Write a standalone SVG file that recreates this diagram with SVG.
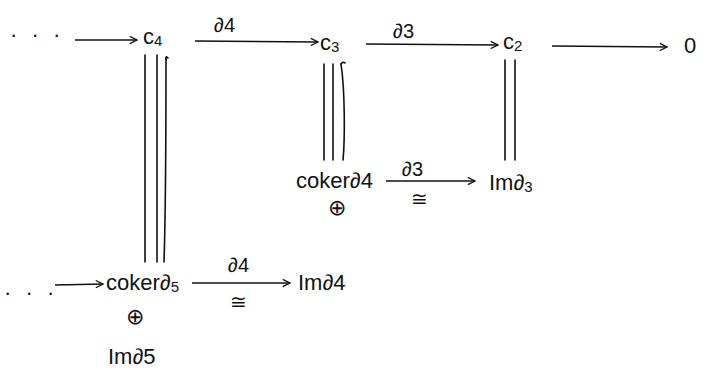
<svg xmlns="http://www.w3.org/2000/svg" width="716" height="381" viewBox="0 0 716 381">
<style>
.t{font-family:"Liberation Sans","DejaVu Sans",sans-serif;fill:#111;}
.n{font-size:22px;}
.l{font-size:20px;}
.o{font-size:22px;}
.sub{font-size:15px;}
.d{font-size:22px;letter-spacing:4px;}
.e{stroke:#111;stroke-width:1.6;fill:none;stroke-linecap:round;}
.a{stroke:#111;stroke-width:1.6;fill:none;marker-end:url(#ah);}
</style>
<defs>
<marker id="ah" viewBox="0 0 10 10" refX="9" refY="5" markerWidth="9" markerHeight="9" markerUnits="userSpaceOnUse" orient="auto">
<path d="M1,1 L9,5 L1,9" fill="none" stroke="#111" stroke-width="1.4"/>
</marker>
</defs>
<rect width="716" height="381" fill="#fff"/>
<g id="dots1"><text class="t d" x="10" y="42">· · ·</text></g>
<g id="c4"><text class="t n" x="143" y="44">c<tspan class="sub" dy="2">4</tspan></text></g>
<g id="c3"><text class="t n" x="320" y="50">c<tspan class="sub" dy="2">3</tspan></text></g>
<g id="c2"><text class="t n" x="503" y="49">c<tspan class="sub" dy="2">2</tspan></text></g>
<g id="zero"><text class="t n" x="684" y="53">0</text></g>
<g id="coker4"><text class="t n" x="296" y="188">coker∂4</text><text class="t o" x="328" y="215">⊕</text></g>
<g id="im3"><text class="t n" x="489" y="190">Im∂<tspan class="sub" dy="2">3</tspan></text></g>
<g id="dots2"><text class="t d" x="4" y="300">· · ·</text></g>
<g id="coker5"><text class="t n" x="106" y="290">coker∂<tspan class="sub" dy="2">5</tspan></text><text class="t o" x="126" y="324">⊕</text><text class="t n" x="108" y="364">Im∂5</text></g>
<g id="im4"><text class="t n" x="298" y="290">Im∂4</text></g>
<g id="connectors">
<line class="a" x1="75" y1="40" x2="137" y2="40"/>
<line class="a" x1="195" y1="41" x2="318" y2="42"/>
<text class="t l" x="214" y="32">∂4</text>
<line class="a" x1="366" y1="44" x2="498" y2="45"/>
<text class="t l" x="393" y="38">∂3</text>
<line class="a" x1="552" y1="46" x2="667" y2="47"/>
<path class="e" d="M145,55 L145,262 M157,55 L157,262 M166,58 C166,120 166,200 164,262"/>
<path class="e" d="M168,58 C166,56 166,56 166,60"/>
<path class="e" d="M324,64 L324,160 M333,64 L333,160 M341,64 C345,90 345,140 343,160"/>
<path class="e" d="M341,64 C342,62 344,62 345,63"/>
<path class="e" d="M505,60 L505,160 M515,60 L515,160"/>
<line class="a" x1="386" y1="181" x2="475" y2="181"/>
<text class="t l" x="402" y="176">∂3</text>
<text class="t l" x="411" y="206">≅</text>
<line class="a" x1="55" y1="285" x2="103" y2="284"/>
<line class="a" x1="192" y1="283" x2="290" y2="283"/>
<text class="t l" x="228" y="272">∂4</text>
<text class="t l" x="230" y="309">≅</text>
</g>
</svg>
